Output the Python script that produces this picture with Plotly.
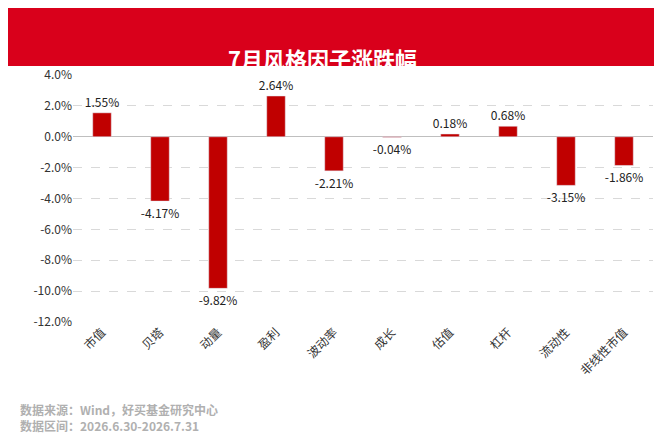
import plotly.graph_objects as go

categories = ["市值", "贝塔", "动量", "盈利", "波动率", "成长", "估值", "杠杆", "流动性", "非线性市值"]
values = [1.55, -4.17, -9.82, 2.64, -2.21, -0.04, 0.18, 0.68, -3.15, -1.86]
tick_vals = [4, 2, 0, -2, -4, -6, -8, -10, -12]
tick_text = ["%.1f%%" % v for v in tick_vals]

font = "Noto Sans CJK SC"

fig = go.Figure(go.Bar(
    x=categories, y=values, width=0.32,
    marker_color="#c00000",
    text=["%.2f%%" % v for v in values],
    textposition="outside", cliponaxis=False,
    textangle=0, constraintext="none",
    textfont=dict(size=12, color="#222", family=font),
))

fig.update_layout(
    width=662, height=436,
    margin=dict(l=65, r=17, t=67, b=122),
    plot_bgcolor="white", paper_bgcolor="white",
    showlegend=False,
    font=dict(family=font, size=12, color="#333"),
    shapes=[dict(type="rect", xref="paper", yref="paper", x0=-0.2, x1=1.1,
                 y0=1.036, y1=1.6, fillcolor="#d9001b", line_width=0, layer="below")],
    annotations=[
        dict(text="<b>7月风格因子涨跌幅</b>", xref="paper", yref="paper", x=0.43, y=1.14,
             showarrow=False, font=dict(size=22, color="white", family=font)),
        dict(text="<b>数据来源：Wind，好买基金研究中心<br>数据区间：2026.6.30-2026.7.31</b>",
             xref="paper", yref="paper", x=-0.095, y=-0.31, xanchor="left", yanchor="top",
             align="left", showarrow=False, font=dict(size=12, color="#b0b0b0", family=font)),
    ],
)
fig.update_yaxes(range=[-12, 4], tickvals=tick_vals, ticktext=tick_text,
                 showgrid=True, gridcolor="#d9d9d9", griddash="dash",
                 zeroline=True, zerolinecolor="#bfbfbf", zerolinewidth=1, ticks="")
fig.update_xaxes(tickangle=-45, showline=False, ticks="")

fig.write_html("out.html")
